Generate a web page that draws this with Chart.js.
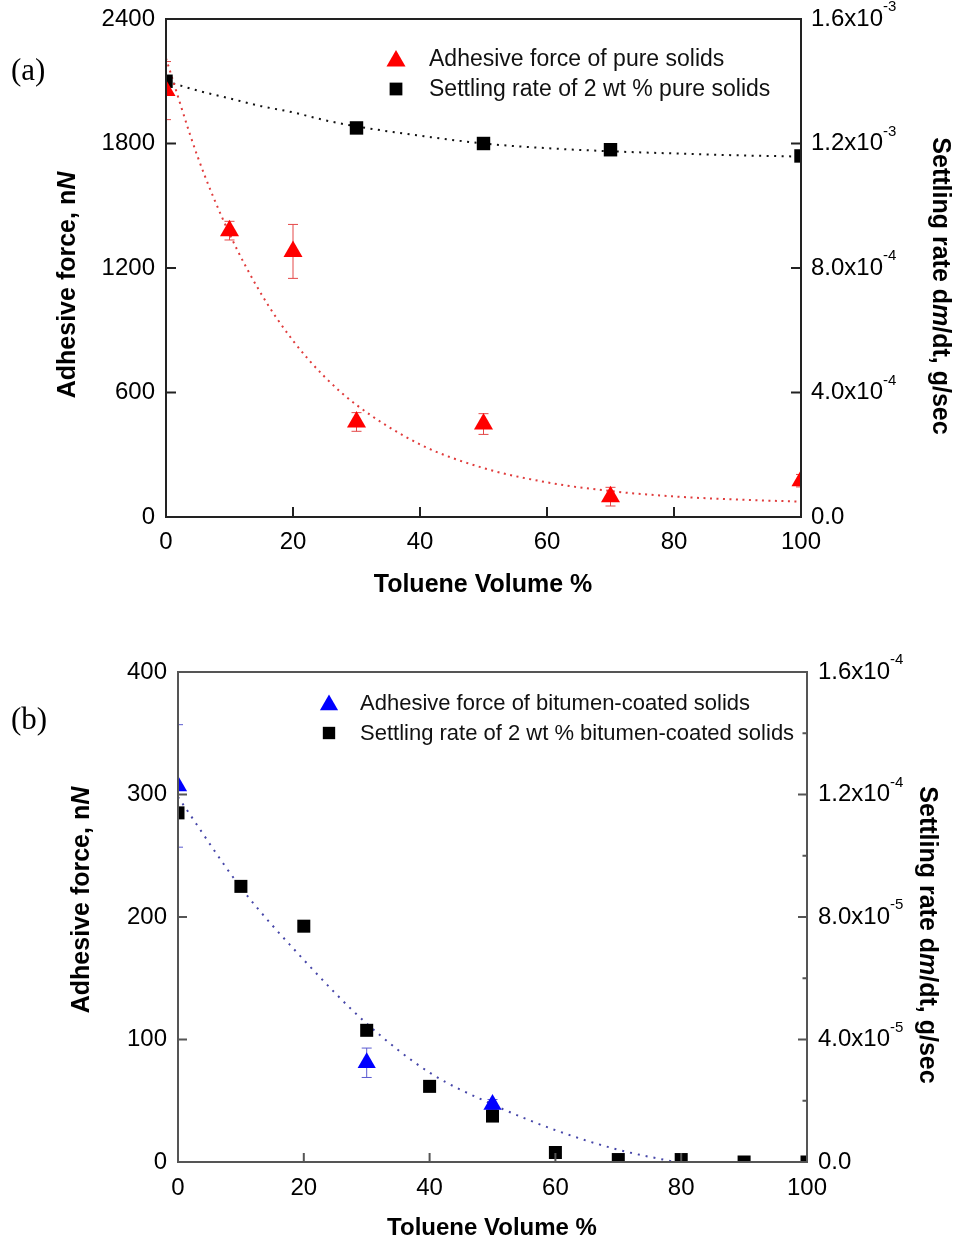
<!DOCTYPE html>
<html>
<head>
<meta charset="utf-8">
<script src="https://cdn.jsdelivr.net/npm/chart.js@4.4.1/dist/chart.umd.min.js"></script>
<style>
  body { margin: 0; background: #fff; }
  canvas { position: absolute; left: 0; }
  #chartA { top: 0; }
  #chartB { top: 620px; }
</style>
</head>
<body>
<canvas id="chartA" width="955" height="620"></canvas>
<canvas id="chartB" width="955" height="622"></canvas>
<script>
'use strict';

// panel (a) - pure solids
const forceXA = [0, 10, 20, 30, 50, 70, 100];
const forceA = [2055, 1380, 1280, 458, 448, 98, 175];
const forceErrA = [140, 45, 130, 45, 50, 45, 30];
const settleXA = [0, 30, 50, 70, 100];
const settleA = [1.40e-3, 1.25e-3, 1.20e-3, 1.18e-3, 1.16e-3];
// dotted fit curves
const fitXA = [0, 5, 10, 15, 20, 25, 30, 40, 50, 60, 70, 80, 90, 100];
const forceFitA = [2210, 1735, 1365, 1075, 850, 675, 540, 350, 236, 167, 125, 99, 84, 74];
const settleFitA = [1.400e-3, 1.370e-3, 1.345e-3, 1.320e-3, 1.300e-3, 1.275e-3, 1.255e-3, 1.225e-3, 1.200e-3, 1.185e-3, 1.175e-3, 1.168e-3, 1.162e-3, 1.158e-3];

// panel (b) - bitumen-coated solids
const forceXB = [0, 30, 50];
const forceB = [307, 81, 47];
const forceErrB = [50, 12, 4];
const settleXB = [0, 10, 20, 30, 40, 50, 60, 70, 80, 90, 100];
const settleB = [1.14e-4, 9.0e-5, 7.7e-5, 4.3e-5, 2.47e-5, 1.5e-5, 3.1e-6, 0.8e-6, 0.8e-6, 0, 0];
const fitXB = [0, 10, 20, 30, 40, 50, 60, 70, 79];
const forceFitB = [298, 224, 165, 113, 73, 47, 26, 10, 0];

// ticks
const xTicks = [0, 20, 40, 60, 80, 100];
const forceTicksA = [0, 600, 1200, 1800, 2400];
const rateTicksA = [0, 4e-4, 8e-4, 1.2e-3, 1.6e-3];
const rateLabelsA = [['0.0', ''], ['4.0x10', '-4'], ['8.0x10', '-4'], ['1.2x10', '-3'], ['1.6x10', '-3']];
const forceTicksB = [0, 100, 200, 300, 400];
const rateTicksB = [0, 4e-5, 8e-5, 1.2e-4, 1.6e-4];
const rateMinorB = [2e-5, 6e-5, 1.0e-4, 1.4e-4];
const rateLabelsB = [['0.0', ''], ['4.0x10', '-5'], ['8.0x10', '-5'], ['1.2x10', '-4'], ['1.6x10', '-4']];

const SANS = "'Liberation Sans', Arial, sans-serif";

function pts(xs, ys, errs) {
  return xs.map((x, i) => ({ x: x, y: ys[i], err: errs ? errs[i] : 0 }));
}

function marker(ctx, style, r, x, y) {
  ctx.beginPath();
  if (style === 'triangle') {
    ctx.moveTo(x, y - r);
    ctx.lineTo(x + 0.866 * r, y + 0.5 * r);
    ctx.lineTo(x - 0.866 * r, y + 0.5 * r);
    ctx.closePath();
  } else {
    const s = r * Math.SQRT1_2;
    ctx.rect(x - s, y - s, 2 * s, 2 * s);
  }
  ctx.fill();
}

// text made of pieces with different fonts, centred on (x, y)
function richText(ctx, parts, x, y, rot) {
  ctx.save();
  ctx.translate(x, y);
  ctx.rotate(rot * Math.PI / 180);
  let w = 0;
  parts.forEach(p => { ctx.font = p.f; w += ctx.measureText(p.t).width; });
  let cx = -w / 2;
  ctx.textBaseline = 'middle';
  ctx.textAlign = 'left';
  parts.forEach(p => {
    ctx.font = p.f;
    ctx.fillText(p.t, cx, 0);
    cx += ctx.measureText(p.t).width;
  });
  ctx.restore();
}

const errorBars = {
  id: 'errorBars',
  beforeDatasetsDraw(chart, args, opts) {
    const ctx = chart.ctx;
    const a = chart.chartArea;
    ctx.save();
    ctx.beginPath();
    ctx.rect(a.left, a.top, a.right - a.left, a.bottom - a.top);
    ctx.clip();
    ctx.strokeStyle = opts.color;
    ctx.lineWidth = 1;
    chart.data.datasets.forEach(ds => {
      if (!ds.withErrors) return;
      const ys = chart.scales[ds.yAxisID];
      const xs = chart.scales.x;
      ds.data.forEach(p => {
        const px = xs.getPixelForValue(p.x);
        const top = ys.getPixelForValue(p.y + p.err);
        const bot = ys.getPixelForValue(p.y - p.err);
        ctx.beginPath();
        ctx.moveTo(px, top); ctx.lineTo(px, bot);
        ctx.moveTo(px - 5, top); ctx.lineTo(px + 5, top);
        ctx.moveTo(px - 5, bot); ctx.lineTo(px + 5, bot);
        ctx.stroke();
      });
    });
    ctx.restore();
  }
};

const frame = {
  id: 'frame',
  afterDatasetsDraw(chart, args, opts) {
    const ctx = chart.ctx;
    const a = chart.chartArea;
    const sx = chart.scales.x, sy = chart.scales.y, sy1 = chart.scales.y1;
    ctx.save();
    ctx.strokeStyle = opts.color;
    ctx.lineWidth = 2;
    ctx.strokeRect(a.left, a.top, a.right - a.left, a.bottom - a.top);
    ctx.beginPath();
    opts.xTicks.forEach(v => {
      const px = sx.getPixelForValue(v);
      ctx.moveTo(px, a.bottom); ctx.lineTo(px, a.bottom - opts.len);
    });
    opts.yTicks.forEach(v => {
      const py = sy.getPixelForValue(v);
      ctx.moveTo(a.left, py); ctx.lineTo(a.left + opts.len, py);
    });
    opts.y1Ticks.forEach(v => {
      const py = sy1.getPixelForValue(v);
      ctx.moveTo(a.right, py); ctx.lineTo(a.right - opts.len, py);
    });
    (opts.y1Minor || []).forEach(v => {
      const py = sy1.getPixelForValue(v);
      ctx.moveTo(a.right, py); ctx.lineTo(a.right - opts.len / 2, py);
    });
    ctx.stroke();

    // right axis labels with superscript exponent
    ctx.fillStyle = '#000';
    ctx.textAlign = 'left';
    ctx.textBaseline = 'middle';
    opts.y1Ticks.forEach((v, i) => {
      const py = sy1.getPixelForValue(v);
      const lab = opts.y1Labels[i];
      ctx.font = '24px ' + SANS;
      ctx.fillText(lab[0], a.right + opts.labelGap, py);
      const w = ctx.measureText(lab[0]).width;
      ctx.font = '15px ' + SANS;
      ctx.fillText(lab[1], a.right + opts.labelGap + w, py - 12);
    });
    ctx.restore();
  },
  afterDraw(chart, args, opts) {
    const ctx = chart.ctx;
    ctx.save();
    ctx.fillStyle = '#000';
    opts.titles.forEach(t => richText(ctx, t.parts, t.x, t.y, t.rot));
    ctx.font = "31px 'Liberation Serif', 'Times New Roman', serif";
    ctx.textBaseline = 'middle';
    ctx.textAlign = 'left';
    ctx.fillText(opts.panel.text, opts.panel.x, opts.panel.y);

    // legend
    const lg = opts.legend;
    lg.items.forEach((idx, i) => {
      const ds = chart.data.datasets[idx];
      const y = lg.y + i * lg.gap;
      ctx.fillStyle = ds.backgroundColor;
      marker(ctx, ds.pointStyle, ds.pointStyle === 'triangle' ? ds.pointRadius : ds.pointRadius * 0.95, lg.markerX, ds.pointStyle === 'triangle' ? y + 2 : y);
      ctx.fillStyle = '#111';
      ctx.font = lg.fontSize + 'px ' + SANS;
      ctx.textBaseline = 'middle';
      ctx.fillText(ds.label, lg.textX, y + 1);
    });
    ctx.restore();
  }
};

function axisTitles(left, right, bottom, bottomSize) {
  const B = 'bold 25px ' + SANS, BI = 'italic bold 25px ' + SANS;
  return [
    { parts: [{ t: 'Adhesive force, n', f: B }, { t: 'N', f: BI }], x: left[0], y: left[1], rot: -90 },
    { parts: [{ t: 'Settling rate d', f: B }, { t: 'm', f: BI }, { t: '/dt, g/sec', f: B }], x: right[0], y: right[1], rot: 90 },
    { parts: [{ t: 'Toluene Volume %', f: 'bold ' + bottomSize + 'px ' + SANS }], x: bottom[0], y: bottom[1], rot: 0 }
  ];
}

function scales(cfg) {
  const tickFont = { family: SANS, size: 24 };
  return {
    x: {
      type: 'linear', min: 0, max: 100,
      ticks: { stepSize: 20, font: tickFont, color: '#000', padding: cfg.xPad, maxRotation: 0, autoSkip: false,
        callback: v => String(v) },
      grid: { display: false, drawTicks: false },
      border: { display: false },
      afterFit(s) { s.height = cfg.xHeight; s.paddingLeft = 0; s.paddingRight = 0; }
    },
    y: {
      position: 'left', min: 0, max: cfg.yMax,
      ticks: { stepSize: cfg.yStep, font: tickFont, color: '#000', padding: 11, callback: v => String(v) },
      grid: { display: false, drawTicks: false },
      border: { display: false },
      afterFit(s) { s.width = cfg.yWidth; s.paddingTop = 0; s.paddingBottom = 0; }
    },
    y1: {
      position: 'right', min: 0, max: cfg.y1Max,
      ticks: { display: false },
      grid: { display: false, drawTicks: false },
      border: { display: false },
      afterFit(s) { s.width = cfg.y1Width; s.paddingTop = 0; s.paddingBottom = 0; }
    }
  };
}

// ---- chart (a)
new Chart(document.getElementById('chartA'), {
  type: 'scatter',
  data: {
    datasets: [
      { label: 'Adhesive force of pure solids', data: pts(forceXA, forceA, forceErrA), withErrors: true,
        yAxisID: 'y', pointStyle: 'triangle', pointRadius: 11, backgroundColor: '#ff0000', borderWidth: 0, clip: 0 },
      { label: 'Settling rate of 2 wt % pure solids', data: pts(settleXA, settleA),
        yAxisID: 'y1', pointStyle: 'rect', pointRadius: 9.5, backgroundColor: '#000000', borderWidth: 0, clip: 0 },
      { label: 'fit force', data: pts(fitXA, forceFitA), yAxisID: 'y', showLine: true, pointRadius: 0,
        borderColor: '#e03c3c', borderWidth: 2, borderDash: [2, 4.5], cubicInterpolationMode: 'monotone', clip: 0 },
      { label: 'fit rate', data: pts(fitXA, settleFitA), yAxisID: 'y1', showLine: true, pointRadius: 0,
        borderColor: '#111', borderWidth: 2, borderDash: [2, 5.5], cubicInterpolationMode: 'monotone', clip: 0 }
    ]
  },
  options: {
    responsive: false,
    animation: false,
    layout: { padding: { top: 19, left: 0, right: 0, bottom: 0 } },
    scales: scales({ xHeight: 103, xPad: 11, yWidth: 166, y1Width: 154, yMax: 2400, yStep: 600, y1Max: 1.6e-3 }),
    plugins: {
      legend: { display: false },
      tooltip: { enabled: false },
      errorBars: { color: '#e44848' },
      frame: {
        color: '#222', len: 10, labelGap: 10,
        xTicks: xTicks.slice(1, -1), yTicks: forceTicksA.slice(1, -1), y1Ticks: rateTicksA, y1Labels: rateLabelsA,
        titles: axisTitles([68, 285], [940, 286], [483, 585], 25),
        panel: { text: '(a)', x: 11, y: 72 },
        legend: { items: [0, 1], markerX: 396, textX: 429, y: 59, gap: 30, fontSize: 23 }
      }
    }
  },
  plugins: [errorBars, frame]
});

// ---- chart (b)
new Chart(document.getElementById('chartB'), {
  type: 'scatter',
  data: {
    datasets: [
      { label: 'Adhesive force of bitumen-coated solids', data: pts(forceXB, forceB, forceErrB), withErrors: true,
        yAxisID: 'y', pointStyle: 'triangle', pointRadius: 10.5, backgroundColor: '#0000ff', borderWidth: 0, clip: 0 },
      { label: 'Settling rate of 2 wt % bitumen-coated solids', data: pts(settleXB, settleB),
        yAxisID: 'y1', pointStyle: 'rect', pointRadius: 9.2, backgroundColor: '#000000', borderWidth: 0, clip: 0 },
      { label: 'fit force', data: pts(fitXB, forceFitB), yAxisID: 'y', showLine: true, pointRadius: 0,
        borderColor: '#4646a8', borderWidth: 2, borderDash: [2, 6], cubicInterpolationMode: 'monotone', clip: 0 }
    ]
  },
  options: {
    responsive: false,
    animation: false,
    layout: { padding: { top: 52, left: 0, right: 0, bottom: 0 } },
    scales: scales({ xHeight: 80, xPad: 12, yWidth: 178, y1Width: 148, yMax: 400, yStep: 100, y1Max: 1.6e-4 }),
    plugins: {
      legend: { display: false },
      tooltip: { enabled: false },
      errorBars: { color: '#5a5ad0' },
      frame: {
        color: '#555', len: 9, labelGap: 11,
        xTicks: xTicks.slice(1, -1), yTicks: forceTicksB.slice(1, -1), y1Ticks: rateTicksB, y1Minor: rateMinorB, y1Labels: rateLabelsB,
        titles: axisTitles([82, 280], [927, 315], [492, 608], 24),
        panel: { text: '(b)', x: 11, y: 101 },
        legend: { items: [0, 1], markerX: 329, textX: 360, y: 83, gap: 30, fontSize: 22 }
      }
    }
  },
  plugins: [errorBars, frame]
});
</script>
</body>
</html>
